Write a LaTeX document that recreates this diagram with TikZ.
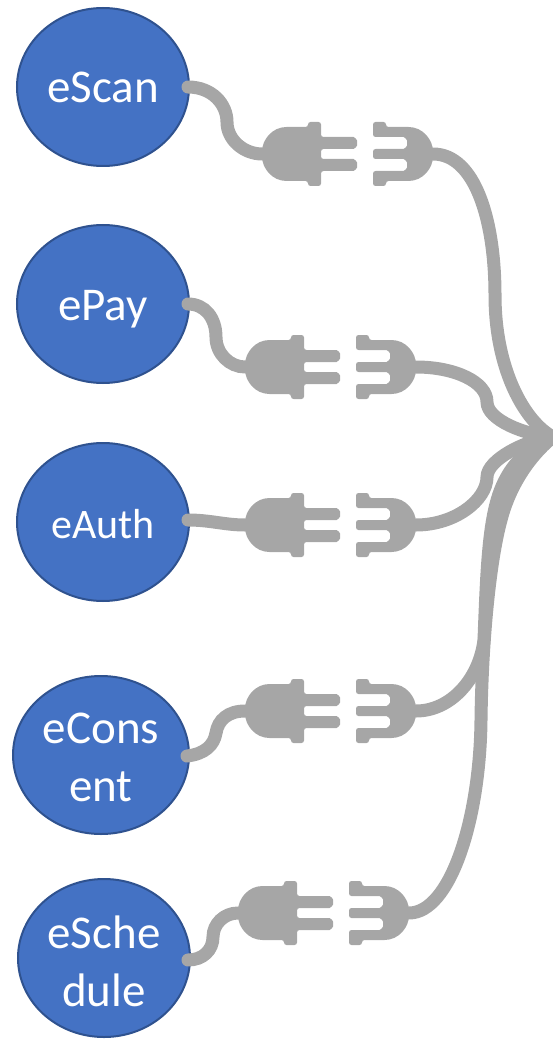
\documentclass[tikz,border=0pt]{standalone}
\usepackage{fontspec}
\setmainfont{Carlito}
\usetikzlibrary{shapes.geometric}
\definecolor{servblue}{HTML}{4472C4}
\definecolor{servedge}{HTML}{2F528F}
\definecolor{wiregray}{HTML}{A6A6A6}
\tikzset{
	service/.style={shape=ellipse, draw=servedge, line width=2pt, fill=servblue, text=white, inner sep=0pt,
		minimum width=172pt, minimum height=158pt, align=center},
	bigtext/.style={font=\fontsize{47}{58}\selectfont, text height=40pt, text depth=8pt},
	smalltext/.style={font=\fontsize{42}{50}\selectfont, text height=40pt, text depth=8pt},
	twolines/.style={font=\fontsize{47}{58}\selectfont, text height=97pt},
	wire/.style={draw=wiregray, line width=13pt, line cap=round},
	plugpart/.style={fill=wiregray, draw=none, rounded corners=2.5pt}
}
\newcommand{\plugpair}[3]
{
	\begin{scope}[shift={(#1,#2)}]
	\coordinate (#3in) at (0,0);
	\coordinate (#3out) at (171,0);
	\path[plugpart] (46,-32) -- (59,-32) -- (59,-17) -- (89,-17) .. controls (93,-17) and (95,-14) .. (95,-11)
		.. controls (95,-8) and (93,-5) .. (89,-5) -- (59,-5) -- (59,5) -- (89,5) .. controls (93,5) and (95,8) .. (95,11)
		.. controls (95,14) and (93,17) .. (89,17) -- (59,17) -- (59,32) -- (46,32) -- (46,27) -- (27,27)
		.. controls (10,27) and (0,14) .. (0,0) .. controls (0,-14) and (10,-27) .. (27,-27) -- (46,-27) -- cycle;
	\path[plugpart] (111,-32) -- (124,-32) -- (124,-27) -- (144,-27) .. controls (161,-27) and (171,-14) .. (171,0)
		.. controls (171,14) and (161,27) .. (144,27) -- (124,27) -- (124,32) -- (111,32) -- (111,17) -- (139,17)
		.. controls (143,17) and (145,14) .. (145,11) .. controls (145,8) and (143,5) .. (139,5) -- (111,5) -- (111,-5) -- (139,-5)
		.. controls (143,-5) and (145,-8) .. (145,-11) .. controls (145,-14) and (143,-17) .. (139,-17) -- (111,-17) -- cycle;
	\end{scope}
}
\begin{document}
\begin{tikzpicture}[x=1pt, y=-1pt]
	\useasboundingbox (0,0) rectangle (552,1040);

	\node[service, bigtext] (eScan) at (103,87) {eScan};
	\node[service, bigtext] (ePay) at (103,304) {ePay};
	\node[service, smalltext] (eAuth) at (103,522) {eAuth};
	\node[service, twolines, text height=93pt, minimum width=176pt] (eConsent) at (101,755) {eCons\\ent};
	\node[service, twolines] (eSchedule) at (104,958) {eSche\\dule};

	\coordinate (hub) at (553,437);
	\coordinate (eScanfree) at (188,87);
	\coordinate (ePayfree) at (188,304);
	\coordinate (eAuthfree) at (188,520);
	\coordinate (eConsentfree) at (187,756);
	\coordinate (eSchedulefree) at (188,960);

	\plugpair{262}{154}{scan}
	\plugpair{245}{367}{pay}
	\plugpair{245}{525}{auth}
	\plugpair{245}{711}{cons}
	\plugpair{238}{913}{sche}

	% service to plug
	\draw[wire] (eScanfree) .. controls (212,87) and (227,104) .. (227,122) .. controls (227,140) and (244,154) .. (scanin);
	\draw[wire] (ePayfree) .. controls (205,304) and (216,318) .. (216,337) .. controls (216,354) and (230,367) .. (payin);
	\draw[wire] (eAuthfree) .. controls (210,520) and (225,525) .. (authin);
	\draw[wire] (eConsentfree) .. controls (205,754) and (214,745) .. (216,733) .. controls (218,720) and (228,711) .. (consin);
	\draw[wire] (eSchedulefree) .. controls (203,960) and (213,950) .. (213,937) .. controls (213,924) and (224,913) .. (schein);

	% plug to hub
	\draw[wire] (scanout) .. controls (475,154) and (495,220) .. (495,295) .. controls (495,370) and (525,422) .. (hub);
	\draw[wire] (payout) .. controls (455,367) and (487,382) .. (487,402) .. controls (487,420) and (525,435) .. (hub);
	\draw[wire] (authout) .. controls (455,525) and (487,500) .. (487,477) .. controls (487,460) and (525,440) .. (hub);
	\draw[wire] (consout) .. controls (450,711) and (479,680) .. (484,640) .. controls (487,560) and (489,510) .. (505,480) .. controls (516,458) and (535,445) .. (hub);
	\draw[wire] (scheout) .. controls (450,913) and (480,820) .. (481,720) .. controls (482,640) and (490,560) .. (501,520) .. controls (508,492) and (525,460) .. (hub);
\end{tikzpicture}
\end{document}
